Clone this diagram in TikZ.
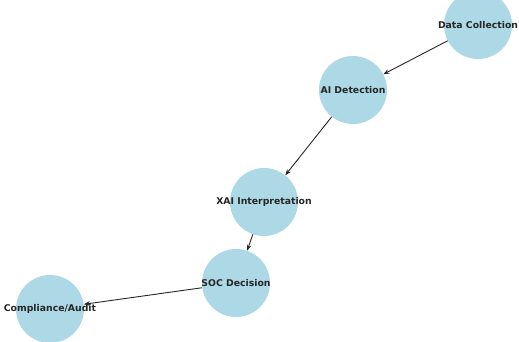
\documentclass[tikz,border=0pt]{standalone}
\usepackage{fontspec}
\setmainfont{DejaVu Sans}
\usetikzlibrary{arrows.meta}
\definecolor{nodeblue}{RGB}{173,216,230}
\tikzset{
  gnode/.style={circle, fill=nodeblue, minimum size=68pt, inner sep=0pt},
  glabel/.style={font=\fontsize{9.3pt}{10pt}\selectfont\bfseries, text=black!85, inner sep=0pt},
  gedge/.style={-{Stealth[length=6pt,width=4.5pt]}, draw=black!85, line width=0.9pt}
}
\begin{document}
\begin{tikzpicture}[x=1pt,y=-1pt]
\useasboundingbox (0,0) rectangle (519,341);
\node[gnode] (dc) at (478,25) {};
\node[gnode] (ai) at (353,90) {};
\node[gnode] (xai) at (264,202) {};
\node[gnode] (soc) at (236,283) {};
\node[gnode] (ca) at (50,309) {};
\draw[gedge] (dc) -- (ai);
\draw[gedge] (ai) -- (xai);
\draw[gedge] (xai) -- (soc);
\draw[gedge] (soc) -- (ca);
\node[glabel] (dcl) at (dc) {Data Collection};
\node[glabel] (ail) at (ai) {AI Detection};
\node[glabel] (xail) at (xai) {XAI Interpretation};
\node[glabel] (socl) at (soc) {SOC Decision};
\node[glabel] (cal) at (ca) {Compliance/Audit};
\end{tikzpicture}
\end{document}
